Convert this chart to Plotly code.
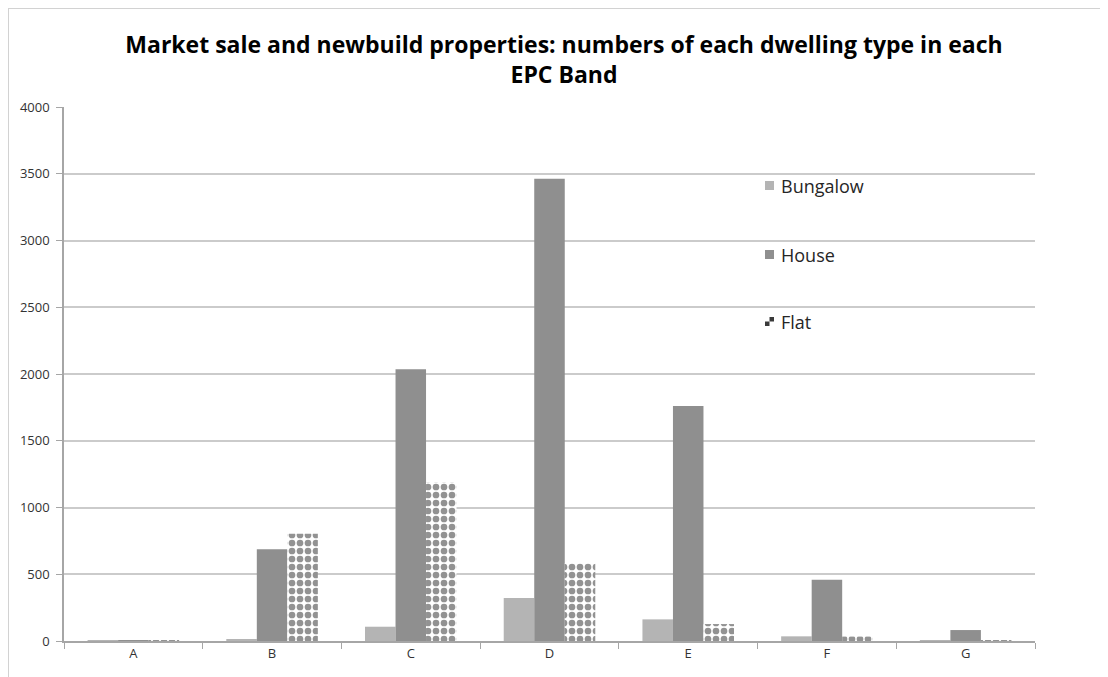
import plotly.graph_objects as go

bands = ["A", "B", "C", "D", "E", "F", "G"]
series_names = ["Bungalow", "House", "Flat"]
bungalow = [2, 15, 107, 322, 162, 35, 3]
house = [5, 688, 2035, 3462, 1760, 458, 82]
flat = [1, 803, 1190, 582, 127, 33, 5]

y_ticks = [0, 500, 1000, 1500, 2000, 2500, 3000, 3500, 4000]

# page offset (body margin) so figure coords = reference pixel - OFF
OFF = 8
W, H = 1108 - OFF, 677 - OFF
# plot area in reference pixels: x 64..1035, y 107..641
L, R, T, B = 64 - OFF, 1108 - 1035, 107 - OFF, 677 - 641
PW, PH = W - L - R, H - T - B


def px(x):
    return (x - OFF - L) / PW


def py(y):
    return (H - B - (y - OFF)) / PH


fig = go.Figure()
fig.add_trace(go.Bar(name=series_names[0], x=bands, y=bungalow,
                     marker=dict(color="#b4b4b4", line=dict(width=0))))
fig.add_trace(go.Bar(name=series_names[1], x=bands, y=house,
                     marker=dict(color="#8f8f8f", line=dict(width=0))))
fig.add_trace(go.Bar(name=series_names[2], x=bands, y=flat,
                     marker=dict(color="white", line=dict(width=0),
                                 pattern=dict(shape=".", fgcolor="#262626",
                                              bgcolor="white", size=8,
                                              solidity=0.55))))

shapes = []
# chart frame (top and left edges)
shapes.append(dict(type="line", xref="paper", yref="paper",
                   x0=px(8), x1=px(1120), y0=py(8), y1=py(8),
                   line=dict(color="#d2d2d2", width=2)))
shapes.append(dict(type="line", xref="paper", yref="paper",
                   x0=px(8), x1=px(8), y0=py(8), y1=py(690),
                   line=dict(color="#d2d2d2", width=2)))

# manual legend
leg_x = 765
leg_y = [186, 255, 322]
annotations = []
for i, name in enumerate(series_names):
    if i < 2:
        col = "#b4b4b4" if i == 0 else "#8f8f8f"
        shapes.append(dict(type="rect", xref="paper", yref="paper",
                           x0=px(leg_x), x1=px(leg_x + 9),
                           y0=py(leg_y[i] - 5), y1=py(leg_y[i] + 4),
                           fillcolor=col, line=dict(width=0)))
    else:
        shapes.append(dict(type="rect", xref="paper", yref="paper",
                           x0=px(leg_x), x1=px(leg_x + 4.5),
                           y0=py(leg_y[i] - 0.5), y1=py(leg_y[i] + 4),
                           fillcolor="#3a3a3a", line=dict(width=0)))
        shapes.append(dict(type="rect", xref="paper", yref="paper",
                           x0=px(leg_x + 4.5), x1=px(leg_x + 9),
                           y0=py(leg_y[i] - 5), y1=py(leg_y[i] - 0.5),
                           fillcolor="#3a3a3a", line=dict(width=0)))
    annotations.append(dict(xref="paper", yref="paper", x=px(leg_x + 14),
                            y=py(leg_y[i]), xanchor="left", yanchor="middle",
                            text=name, showarrow=False,
                            font=dict(family="Open Sans", size=18, color="#262626")))

fig.update_layout(
    width=W, height=H,
    margin=dict(l=L, r=R, t=T, b=B),
    paper_bgcolor="white", plot_bgcolor="white",
    barmode="group", bargap=0.34, bargroupgap=0,
    showlegend=False,
    title=dict(text="<b>Market sale and newbuild properties: numbers of each dwelling type in each<br>EPC Band</b>",
               xref="container", x=(564 - OFF) / W, xanchor="center",
               yref="container", y=1 - (53 - OFF) / H, yanchor="middle",
               font=dict(family="Open Sans", size=23, color="#000000")),
    shapes=shapes,
    annotations=annotations,
    font=dict(family="Open Sans", size=13, color="#333333"),
)
fig.update_yaxes(range=[0, 4000], tickvals=y_ticks, showgrid=True,
                 gridcolor="#cbcbcb", gridwidth=2, zeroline=False,
                 showline=True, linecolor="#a6a6a6", linewidth=1.5,
                 ticks="outside", ticklen=6, tickcolor="#a6a6a6",
                 ticklabelstandoff=4,
                 tickfont=dict(family="Open Sans", size=13, color="#333333"))
fig.update_xaxes(showline=True, linecolor="#a6a6a6", linewidth=1.5,
                 ticks="outside", tickson="boundaries", ticklen=6,
                 tickcolor="#a6a6a6", showgrid=False,
                 tickfont=dict(family="Open Sans", size=13, color="#333333"))

fig.write_html("out.html")
